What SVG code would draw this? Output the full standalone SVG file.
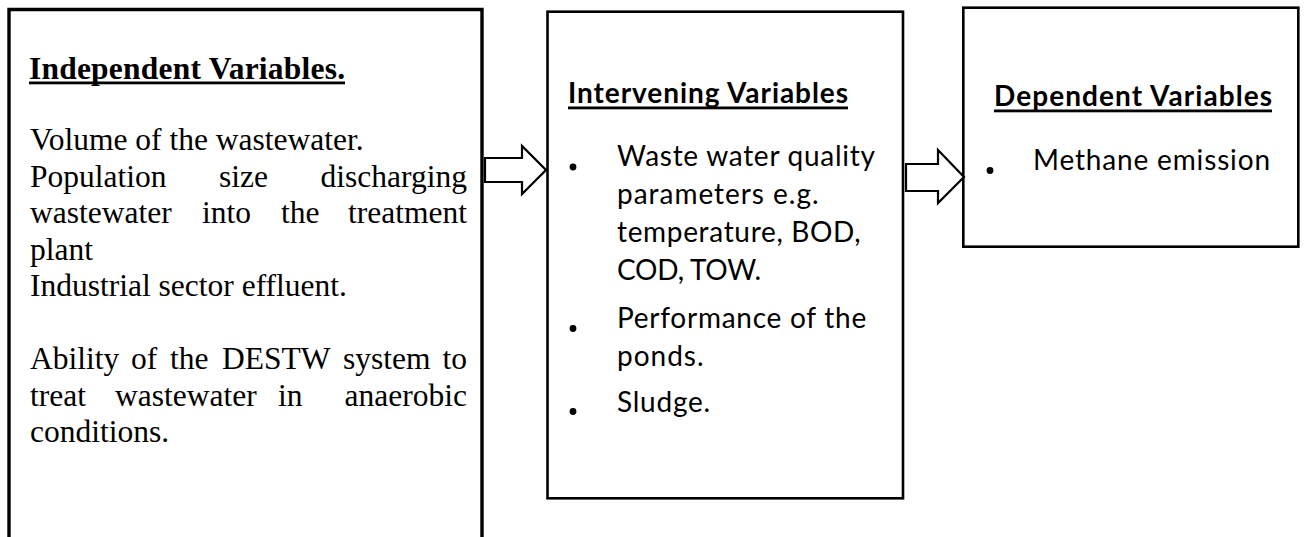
<svg xmlns="http://www.w3.org/2000/svg" width="1306" height="537" viewBox="0 0 1306 537">
<style>
.box{fill:none;stroke:#000;stroke-width:2.6}
.serif{font-family:"Liberation Serif","Times New Roman",serif;font-size:31.5px;fill:#000}
.serifb{font-family:"Liberation Serif","Times New Roman",serif;font-size:31.5px;font-weight:bold;fill:#000}
.sans{font-family:Lato,"Open Sans","Liberation Sans",sans-serif;font-size:28px;fill:#000}
.sansb{font-family:Lato,"Open Sans","Liberation Sans",sans-serif;font-size:28px;font-weight:bold;fill:#000}
.arrow{fill:#fff;stroke:#000;stroke-width:2.2;stroke-linejoin:miter}
.ul{fill:#000}
.dot{fill:#000}
</style>
<rect width="1306" height="537" fill="#fff"/>
<g id="node-independent">
<path class="box" d="M9,545 V9.5 H482 V545" style="stroke-width:3.4"/>
<text class="serifb" x="29" y="79" textLength="316">Independent Variables.</text>
<rect class="ul" x="29" y="81.5" width="316" height="2.8"/>
<text class="serif" x="30" y="150">Volume of the wastewater.</text>
<text class="serif" y="187"><tspan x="30">Population</tspan><tspan x="219">size</tspan><tspan x="467" text-anchor="end">discharging</tspan></text>
<text class="serif" y="223"><tspan x="30">wastewater</tspan><tspan x="202">into</tspan><tspan x="281">the</tspan><tspan x="467" text-anchor="end">treatment</tspan></text>
<text class="serif" x="30" y="259.5">plant</text>
<text class="serif" x="30" y="296">Industrial sector effluent.</text>
<text class="serif" y="369"><tspan x="30">Ability</tspan><tspan x="131">of</tspan><tspan x="170">the</tspan><tspan x="222">DESTW</tspan><tspan x="343">system</tspan><tspan x="467" text-anchor="end">to</tspan></text>
<text class="serif" y="405.5"><tspan x="30">treat</tspan><tspan x="115">wastewater</tspan><tspan x="278">in</tspan><tspan x="467" text-anchor="end">anaerobic</tspan></text>
<text class="serif" x="30" y="442">conditions.</text>
</g>
<g id="node-intervening">
<rect class="box" x="547.5" y="11.7" width="355.5" height="486.6"/>
<text class="sansb" x="568" y="103" textLength="280">Intervening Variables</text>
<rect class="ul" x="568" y="106.5" width="280" height="2.8"/>
<circle class="dot" cx="573" cy="167" r="3.4"/>
<text class="sans" x="617" y="166" textLength="258">Waste water quality</text>
<text class="sans" x="617" y="204" textLength="201.6">parameters e.g.</text>
<text class="sans" x="617" y="242" textLength="243.7">temperature, BOD,</text>
<text class="sans" x="617" y="280" textLength="144.2">COD, TOW.</text>
<circle class="dot" cx="573" cy="328.5" r="3.4"/>
<text class="sans" x="617" y="328" textLength="249.2">Performance of the</text>
<text class="sans" x="617" y="366" textLength="86.5">ponds.</text>
<circle class="dot" cx="573" cy="411.5" r="3.4"/>
<text class="sans" x="617" y="412" textLength="93.2">Sludge.</text>
</g>
<g id="node-dependent">
<rect class="box" x="963.3" y="7.7" width="335" height="239"/>
<text class="sansb" x="994" y="106" textLength="278">Dependent Variables</text>
<rect class="ul" x="994" y="109.5" width="278" height="2.8"/>
<circle class="dot" cx="990" cy="170.5" r="3.4"/>
<text class="sans" x="1033" y="170" textLength="237">Methane emission</text>
</g>
<g id="connectors">
<polygon class="arrow" points="485,158 522,158 522,146 546,170 522,194 522,182 485,182"/>
<polygon class="arrow" points="906,164 938,164 938,150 964,177 938,203 938,191 906,191"/>
</g>
</svg>
